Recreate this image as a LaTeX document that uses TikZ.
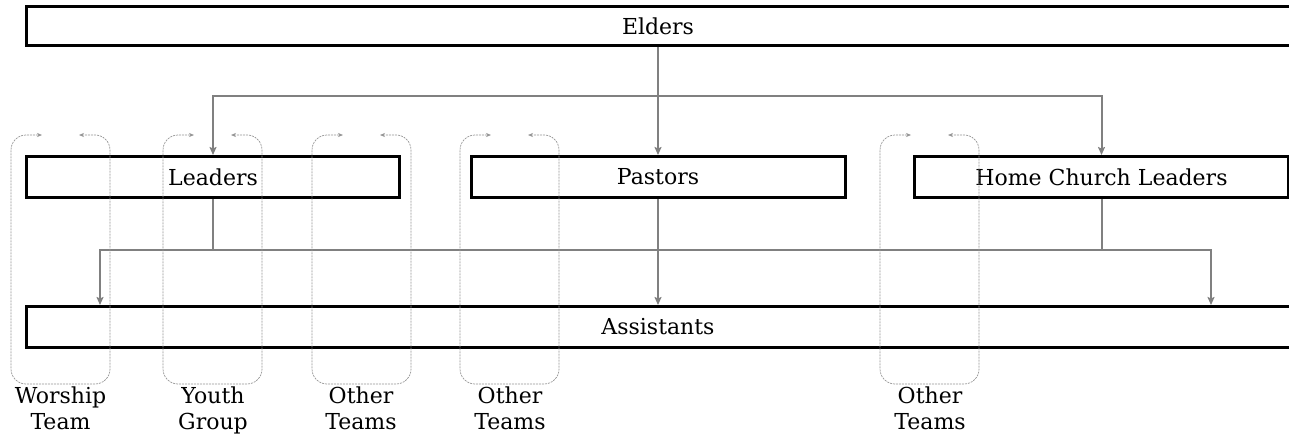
\documentclass[tikz,border=0pt]{standalone}
\usepackage{fontspec}
\setmainfont{DejaVu Serif}
\usetikzlibrary{arrows.meta}
\definecolor{conn}{RGB}{128,128,128}
\definecolor{loopc}{RGB}{150,150,150}
\tikzset{
  rolebox/.style={draw=black, line width=3pt, fill=white, inner sep=0pt, font=\fontsize{22}{26}\selectfont},
  wire/.style={draw=conn, line width=2pt, -{Stealth[length=8pt,width=7pt,inset=1.5pt]}},
  plainwire/.style={draw=conn, line width=2pt},
  teamloop/.style={draw=loopc, line width=0.7pt, dash pattern=on 2pt off 1pt, rounded corners=15pt, {Stealth[length=5pt,width=4pt]}-{Stealth[length=5pt,width=4pt]}},
  teamlabel/.style={align=center, inner sep=0pt, font=\fontsize{22}{26}\selectfont}
}
\begin{document}
\begin{tikzpicture}[x=1pt,y=-1pt]
\useasboundingbox (0,0) rectangle (1289,437);
\clip (0,0) rectangle (1289,437);
\fill[white] (0,0) rectangle (1289,437);
% boxes
\node[rolebox, minimum width=1264pt, minimum height=39pt] (elders) at (658,26) {Elders};
\node[rolebox, minimum width=373pt, minimum height=41pt] (leaders) at (213,177) {Leaders};
\node[rolebox, minimum width=374pt, minimum height=41pt] (pastors) at (658,177) {Pastors};
\node[rolebox, minimum width=374pt, minimum height=41pt] (hcl) at (1101.5,177) {Home Church Leaders};
\node[rolebox, minimum width=1264pt, minimum height=41pt] (assist) at (658,327) {Assistants};
% coordinates
\coordinate (j1) at (658,96);
\coordinate (j2) at (213,250);
\coordinate (j3) at (hcl.south |- j2);
\coordinate (a1) at (100,305);
\coordinate (a3) at (1211,305);
% top connectors
\draw[wire] (elders.south) -- (pastors.north);
\draw[wire] (j1) -| (leaders.north);
\draw[wire] (j1) -| (hcl.north);
% bottom connectors
\draw[plainwire] (leaders.south) -- (j2);
\draw[wire] (j2) -| (a1);
\draw[wire] (pastors.south) -- (assist.north -| pastors.south);
\draw[plainwire] (hcl.south) -- (j3);
\draw[wire] (j2) -| (a3);
% team loops
\foreach \x/\c/\la/\lb/\nm in {11/60.5/Worship/Team/wt, 163/213/Youth/Group/yg, 312/361/Other/Teams/ot1, 460/510/Other/Teams/ot2, 880/930/Other/Teams/ot3}{
  \draw[teamloop] (\x+68,135) -- (\x+99,135) -- (\x+99,384) -- (\x,384) -- (\x,135) -- (\x+31,135);
  \node[teamlabel] (\nm) at (\c,411) {\la\strut\\\lb\strut};
}
\end{tikzpicture}
\end{document}
